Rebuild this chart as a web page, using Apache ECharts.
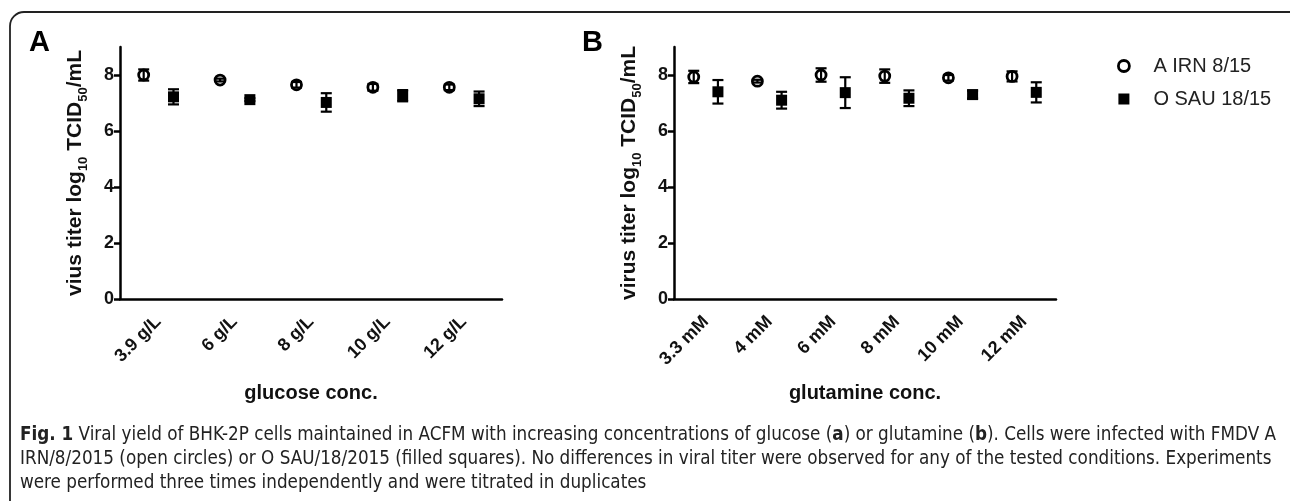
<!DOCTYPE html>
<html>
<head>
<meta charset="utf-8">
<script src="https://cdn.jsdelivr.net/npm/echarts@6/dist/echarts.min.js"></script>
<style>
  html, body { margin: 0; padding: 0; background: #fff; }
  #chart { width: 1290px; height: 501px; }
</style>
</head>
<body>
<div id="chart"></div>
<script>
  // glucose panel (A)
  const catsA = ['3.9 g/L', '6 g/L', '8 g/L', '10 g/L', '12 g/L'];
  const irnA = [8.0, 7.82, 7.65, 7.56, 7.56];
  const irnAsd = [0.2, 0.05, 0.1, 0.12, 0.1];
  const sauA = [7.22, 7.12, 7.02, 7.26, 7.15];
  const sauAsd = [0.27, 0.05, 0.33, 0.2, 0.26];

  // glutamine panel (B)
  const catsB = ['3.3 mM', '4 mM', '6 mM', '8 mM', '10 mM', '12 mM'];
  const irnB = [7.93, 7.78, 8.0, 7.96, 7.9, 7.95];
  const irnBsd = [0.22, 0.05, 0.24, 0.24, 0.1, 0.18];
  const sauB = [7.4, 7.1, 7.37, 7.17, 7.3, 7.38];
  const sauBsd = [0.42, 0.3, 0.55, 0.28, 0.14, 0.36];

  const yTicks = [0, 2, 4, 6, 8];

  const FONT = '"Liberation Sans", Arial, sans-serif';
  const CAPFONT = '"DejaVu Sans Condensed", sans-serif';

  function pack(vals, sds) {
    return vals.map((v, i) => [i, v, sds[i]]);
  }

  // marker + error bar, shifted inside the category band
  function pointRenderer(kind, shift) {
    return function (params, api) {
      const i = api.value(0), m = api.value(1), sd = api.value(2);
      const p = api.coord([i, m]);
      const band = api.size([1, 0])[0];
      const cx = p[0] + shift * band;
      const cy = p[1];
      const yt = api.coord([i, m + sd])[1];
      const yb = api.coord([i, m - sd])[1];
      const ln = { stroke: '#000', lineWidth: 2.2 };
      const kids = [];
      if (kind === 'square') {
        kids.push({ type: 'rect', shape: { x: cx - 5.5, y: cy - 5.5, width: 11, height: 11 }, style: { fill: '#000' } });
      } else {
        kids.push({ type: 'circle', shape: { cx: cx, cy: cy, r: 5 }, style: { fill: 'none', stroke: '#000', lineWidth: 2.8 } });
      }
      kids.push({ type: 'line', shape: { x1: cx, y1: yt, x2: cx, y2: yb }, style: ln });
      kids.push({ type: 'line', shape: { x1: cx - 5.5, y1: yt, x2: cx + 5.5, y2: yt }, style: ln });
      kids.push({ type: 'line', shape: { x1: cx - 5.5, y1: yb, x2: cx + 5.5, y2: yb }, style: ln });
      return { type: 'group', children: kids };
    };
  }

  const richName = {
    sub: { fontSize: 13, fontWeight: 'bold', fontFamily: FONT, color: '#111', verticalAlign: 'bottom', lineHeight: 30 }
  };

  function xAxisOf(idx, cats, name) {
    return {
      type: 'category', gridIndex: idx, data: cats,
      name: name, nameLocation: 'middle', nameGap: 84,
      nameTextStyle: { fontFamily: FONT, fontWeight: 'bold', fontSize: 20, color: '#111' },
      axisLine: { lineStyle: { color: '#000', width: 2.5 } },
      axisTick: { alignWithLabel: true, length: 6, lineStyle: { color: '#000', width: 2.5 } },
      axisLabel: { rotate: 45, margin: 20, fontFamily: FONT, fontWeight: 'bold', fontSize: 18, color: '#111' },
      splitLine: { show: false }
    };
  }

  function yAxisOf(idx, name) {
    return {
      type: 'value', gridIndex: idx, min: 0, max: 9,
      name: name, nameLocation: 'middle', nameGap: 30,
      nameTextStyle: { fontFamily: FONT, fontWeight: 'bold', fontSize: 21, color: '#111', lineHeight: 30, rich: richName },
      axisLine: { show: true, lineStyle: { color: '#000', width: 2.5 } },
      axisTick: { show: true, length: 6, customValues: yTicks, lineStyle: { color: '#000', width: 2.5 } },
      axisLabel: { customValues: yTicks, margin: 6, fontFamily: FONT, fontWeight: 'bold', fontSize: 18, color: '#111' },
      splitLine: { show: false }
    };
  }

  const myChart = echarts.init(document.getElementById('chart'));
  const option = {
    animation: false,
    backgroundColor: '#fff',
    grid: [
      { left: 120, top: 47, width: 382, height: 252 },
      { left: 674, top: 47, width: 382, height: 252 }
    ],
    xAxis: [
      xAxisOf(0, catsA, 'glucose conc.'),
      xAxisOf(1, catsB, 'glutamine conc.')
    ],
    yAxis: [
      yAxisOf(0, 'vius titer log{sub|10} TCID{sub|50}/mL'),
      yAxisOf(1, 'virus titer log{sub|10} TCID{sub|50}/mL')
    ],
    legend: {
      orient: 'vertical', left: 1112, top: 51, itemGap: 13,
      itemWidth: 11, itemHeight: 11,
      textStyle: { fontFamily: FONT, fontSize: 20, color: '#222', padding: [0, 0, 0, 19] },
      data: [
        { name: 'A IRN 8/15', icon: 'circle', itemStyle: { color: '#fff', borderColor: '#000', borderWidth: 2.8 } },
        { name: 'O SAU 18/15', icon: 'rect', itemStyle: { color: '#000', borderWidth: 0 } }
      ]
    },
    series: [
      { name: 'A IRN 8/15', type: 'custom', xAxisIndex: 0, yAxisIndex: 0, renderItem: pointRenderer('circle', -0.19), data: pack(irnA, irnAsd) },
      { name: 'O SAU 18/15', type: 'custom', xAxisIndex: 0, yAxisIndex: 0, renderItem: pointRenderer('square', 0.2), data: pack(sauA, sauAsd) },
      { name: 'A IRN 8/15', type: 'custom', xAxisIndex: 1, yAxisIndex: 1, renderItem: pointRenderer('circle', -0.19), data: pack(irnB, irnBsd) },
      { name: 'O SAU 18/15', type: 'custom', xAxisIndex: 1, yAxisIndex: 1, renderItem: pointRenderer('square', 0.19), data: pack(sauB, sauBsd) }
    ],
    graphic: [
      { type: 'rect', shape: { x: 10, y: 12, width: 1300, height: 600, r: 14 }, style: { fill: 'none', stroke: '#222', lineWidth: 1.8 }, silent: true },
      { type: 'text', left: 29, top: 28, style: { text: 'A', font: 'bold 29px ' + FONT, fill: '#000' } },
      { type: 'text', left: 582, top: 28, style: { text: 'B', font: 'bold 29px ' + FONT, fill: '#000' } },
      {
        type: 'text', left: 20, top: 426,
        style: {
          text: '{b|Fig. 1} Viral yield of BHK-2P cells maintained in ACFM with increasing concentrations of glucose ({b|a}) or glutamine ({b|b}). Cells were infected with FMDV A',
          font: '18.7px ' + CAPFONT, fill: '#222',
          rich: { b: { font: 'bold 18.7px ' + CAPFONT, fill: '#222' } }
        }
      },
      {
        type: 'text', left: 20, top: 450,
        style: {
          text: 'IRN/8/2015 (open circles) or O SAU/18/2015 (filled squares). No differences in viral titer were observed for any of the tested conditions. Experiments',
          font: '18.7px ' + CAPFONT, fill: '#222'
        }
      },
      {
        type: 'text', left: 20, top: 474,
        style: {
          text: 'were performed three times independently and were titrated in duplicates',
          font: '18.7px ' + CAPFONT, fill: '#222'
        }
      }
    ]
  };

  myChart.setOption(option);
  window.addEventListener('resize', myChart.resize);
</script>
</body>
</html>
